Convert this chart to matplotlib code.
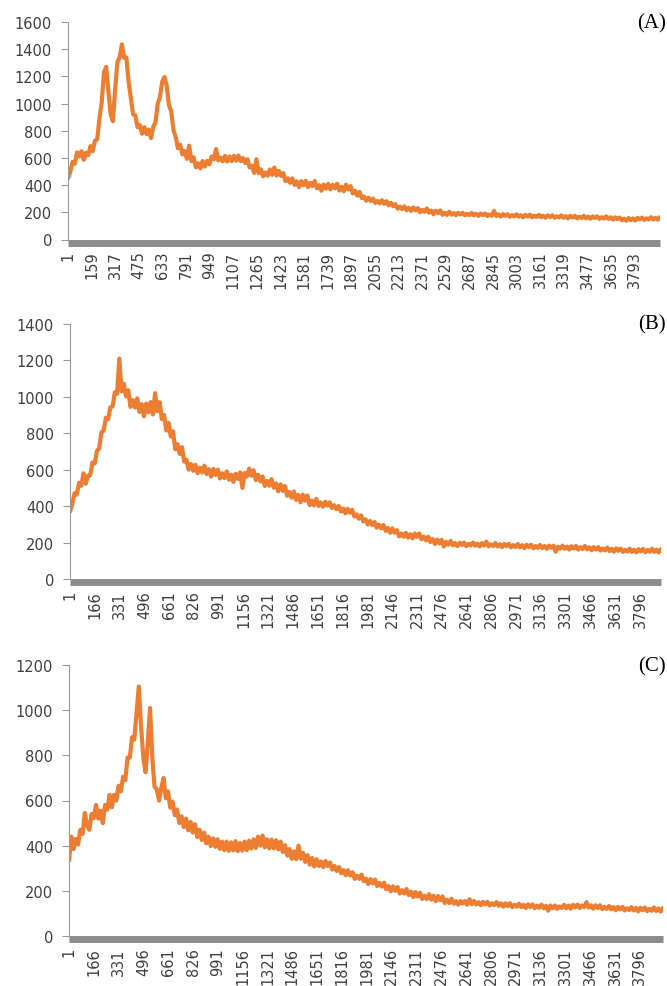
import numpy as np
import matplotlib
matplotlib.use("Agg")
import matplotlib.pyplot as plt

# ---------------- data (one every ~15 categories) -------------
vals_A = [450, 498, 571, 558, 641, 612, 649, 586, 638, 621,
          687, 650, 726, 738, 891, 1007, 1229, 1270, 1090, 921,
          870, 1108, 1306, 1338, 1435, 1337, 1339, 1161, 1040, 921,
          912, 826, 841, 778, 826, 775, 809, 746, 830, 861,
          1002, 1048, 1161, 1195, 1131, 987, 944, 806, 755, 671,
          697, 626, 651, 593, 690, 577, 604, 531, 560, 524,
          577, 537, 578, 553, 610, 590, 665, 582, 603, 575,
          615, 574, 611, 577, 615, 580, 618, 577, 598, 563,
          590, 530, 543, 490, 590, 488, 516, 465, 493, 470,
          515, 476, 530, 470, 505, 468, 488, 429, 450, 417,
          450, 402, 428, 385, 429, 399, 432, 386, 417, 393,
          430, 377, 399, 359, 404, 374, 409, 369, 403, 377,
          410, 360, 388, 355, 403, 368, 393, 339, 358, 323,
          350, 305, 316, 285, 307, 284, 301, 269, 284, 266,
          289, 263, 282, 251, 270, 245, 260, 227, 242, 224,
          244, 215, 233, 210, 237, 215, 231, 200, 218, 204,
          228, 198, 213, 186, 212, 194, 214, 182, 197, 181,
          204, 183, 194, 179, 196, 184, 196, 178, 189, 180,
          195, 178, 189, 174, 191, 179, 191, 173, 184, 175,
          210, 173, 184, 169, 186, 174, 186, 168, 179, 170,
          185, 168, 179, 164, 181, 169, 182, 163, 175, 166,
          181, 164, 175, 160, 178, 165, 178, 160, 171, 162,
          177, 160, 172, 156, 174, 162, 174, 156, 167, 158,
          174, 156, 168, 153, 170, 158, 170, 152, 164, 154,
          170, 152, 163, 146, 163, 150, 161, 142, 153, 138,
          158, 142, 155, 140, 159, 148, 161, 144, 156, 148,
          164, 148, 160, 146, 164]

vals_B = [370, 412, 471, 463, 528, 512, 580, 523, 568, 570,
          640, 634, 703, 717, 805, 815, 885, 877, 942, 948,
          1025, 1017, 1210, 1030, 1072, 1002, 1036, 945, 982, 941,
          992, 917, 960, 893, 963, 916, 971, 904, 1020, 921,
          971, 877, 900, 815, 857, 782, 811, 712, 740, 686,
          724, 644, 655, 600, 632, 594, 627, 581, 611, 585,
          622, 576, 603, 562, 604, 571, 601, 552, 580, 554,
          591, 545, 573, 533, 578, 549, 585, 500, 582, 563,
          606, 567, 597, 543, 572, 536, 563, 511, 538, 512,
          548, 501, 525, 481, 520, 484, 510, 457, 478, 446,
          481, 434, 462, 421, 463, 430, 459, 406, 431, 404,
          440, 401, 420, 397, 424, 404, 421, 390, 405, 384,
          401, 371, 387, 361, 385, 364, 380, 343, 355, 331,
          349, 316, 328, 299, 319, 296, 313, 282, 298, 278,
          296, 264, 280, 254, 278, 254, 268, 234, 250, 232,
          253, 227, 246, 223, 250, 231, 250, 219, 233, 212,
          232, 203, 219, 192, 216, 195, 215, 178, 205, 188,
          209, 185, 197, 181, 199, 187, 200, 181, 193, 184,
          200, 183, 194, 179, 197, 184, 205, 179, 190, 181,
          197, 179, 191, 175, 193, 180, 193, 174, 186, 176,
          192, 174, 186, 170, 188, 175, 188, 169, 181, 171,
          187, 170, 181, 166, 183, 171, 183, 150, 177, 167,
          183, 166, 178, 162, 180, 168, 181, 162, 174, 165,
          181, 163, 174, 158, 175, 162, 175, 156, 167, 157,
          172, 154, 166, 150, 168, 155, 167, 149, 160, 151,
          166, 149, 161, 146, 164, 152, 165, 147, 159, 150,
          166, 149, 161, 146, 164]

vals_C = [335, 440, 385, 430, 405, 470, 452, 545, 490, 470,
          540, 522, 580, 520, 555, 500, 580, 560, 625, 570,
          625, 600, 665, 640, 705, 690, 790, 790, 880, 870,
          990, 1105, 930, 790, 725, 860, 1010, 790, 660, 650,
          600, 655, 700, 610, 640, 568, 595, 535, 560, 500,
          530, 482, 520, 468, 505, 458, 495, 438, 470, 425,
          458, 410, 440, 398, 432, 395, 428, 386, 418, 380,
          418, 377, 415, 379, 420, 376, 412, 378, 418, 380,
          422, 387, 428, 390, 440, 400, 445, 392, 428, 388,
          427, 388, 424, 384, 418, 372, 402, 356, 385, 342,
          375, 340, 400, 342, 368, 328, 358, 316, 346, 308,
          340, 310, 330, 305, 332, 310, 326, 294, 310, 288,
          305, 278, 292, 269, 291, 268, 282, 253, 267, 253,
          272, 243, 254, 230, 252, 233, 250, 221, 235, 219,
          236, 207, 221, 198, 220, 200, 217, 188, 203, 188,
          208, 181, 196, 172, 195, 175, 192, 164, 178, 163,
          185, 161, 178, 154, 177, 158, 175, 146, 161, 146,
          165, 143, 154, 139, 155, 144, 155, 139, 163, 141,
          155, 140, 150, 136, 151, 140, 151, 135, 145, 137,
          150, 134, 145, 130, 145, 133, 145, 128, 138, 130,
          143, 128, 138, 124, 140, 128, 140, 123, 134, 125,
          139, 123, 134, 112, 135, 123, 135, 120, 131, 124,
          138, 123, 135, 121, 138, 127, 139, 124, 135, 128,
          150, 126, 136, 121, 136, 124, 136, 119, 129, 120,
          133, 118, 128, 114, 129, 118, 129, 113, 123, 115,
          128, 113, 124, 109, 125, 114, 126, 110, 120, 112,
          126, 111, 122, 108, 124]

n_cat_A = 3962
n_cat_B = 3935
n_cat_C = 3950

ticks_A = [1, 159, 317, 475, 633, 791, 949, 1107, 1265, 1423, 1581, 1739, 1897,
           2055, 2213, 2371, 2529, 2687, 2845, 3003, 3161, 3319, 3477, 3635, 3793]
ticks_BC = [1, 166, 331, 496, 661, 826, 991, 1156, 1321, 1486, 1651, 1816, 1981,
            2146, 2311, 2476, 2641, 2806, 2971, 3136, 3301, 3466, 3631, 3796]

ymax_A, ymax_B, ymax_C = 1600, 1400, 1200
panel_labels = ["(A)", "(B)", "(C)"]

# ---------------- styling ----------------
ORANGE = "#ED7D31"
AXIS_GRAY = "#9a9a9a"
BAR_GRAY = "#8c8c8c"
TXT = "#404040"

W, H = 667, 987
fig = plt.figure(figsize=(W / 100, H / 100), dpi=100)


def px_axes(left, right, top, bottom):
    return [left / W, 1 - bottom / H, (right - left) / W, (bottom - top) / H]


specs = [
    (vals_A, n_cat_A, ticks_A, ymax_A, px_axes(68, 660, 23, 240.5), 24),
    (vals_B, n_cat_B, ticks_BC, ymax_B, px_axes(70, 661, 325, 580), 325),
    (vals_C, n_cat_C, ticks_BC, ymax_C, px_axes(69, 663, 666, 937), 667),
]

for (vals, ncat, ticks, ymax, rect, label_y), lab in zip(specs, panel_labels):
    ax = fig.add_axes(rect)
    for s in ("top", "right"):
        ax.spines[s].set_visible(False)
    ax.spines["bottom"].set_position(("outward", 2.5))
    ax.spines["left"].set_color(AXIS_GRAY)
    ax.spines["left"].set_linewidth(0.8)
    ax.spines["bottom"].set_color(BAR_GRAY)
    ax.spines["bottom"].set_linewidth(5)
    ax.spines["bottom"].set_capstyle("butt")

    x = np.linspace(1, ncat, len(vals))
    ax.plot(x, vals, color=ORANGE, lw=3.0, solid_joinstyle="round",
            solid_capstyle="round")
    ax.set_xlim(0.5, ncat + 0.5)
    ax.set_ylim(0, ymax)
    ax.set_yticks(np.arange(0, ymax + 1, 200))
    ax.set_xticks(ticks)
    ax.set_xticklabels([str(t) for t in ticks])
    ax.tick_params(axis="y", length=5, width=0.8, color=AXIS_GRAY, pad=6.5,
                   labelsize=10.5, labelcolor=TXT)
    ax.tick_params(axis="x", length=0, pad=5.5, labelsize=10.5, labelcolor=TXT,
                   labelrotation=90)
    fig.text(0.998, 1 - label_y / H, lab, ha="right", va="center",
             fontfamily="Liberation Serif", fontsize=15, color="black")

fig.savefig("out.png", dpi=100)
